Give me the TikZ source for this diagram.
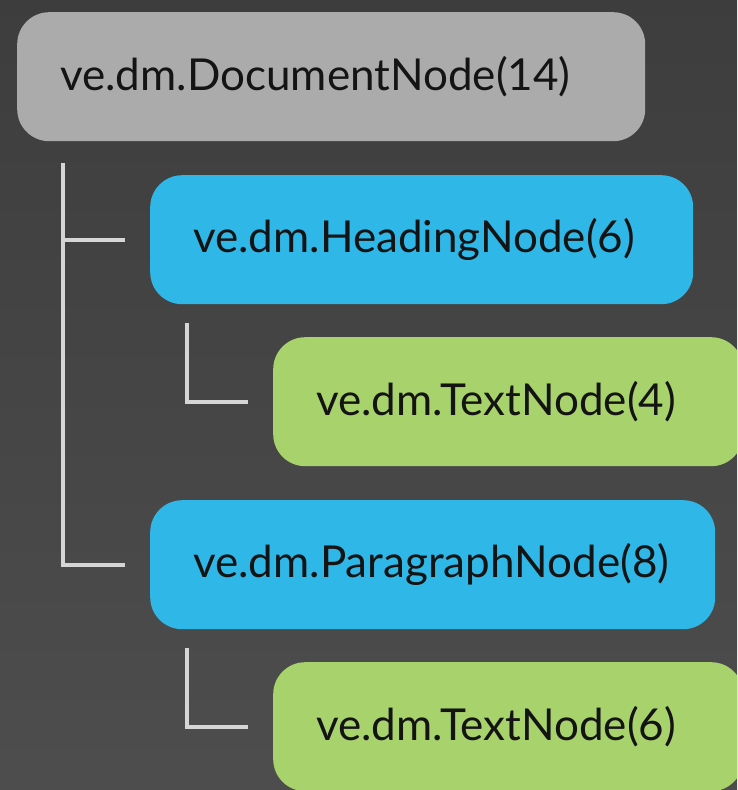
\documentclass[tikz,border=0pt]{standalone}
\usepackage{fontspec}
\setmainfont{Lato}
\usetikzlibrary{calc}
\definecolor{bggray}{HTML}{444444}
\definecolor{docgray}{HTML}{ABABAB}
\definecolor{blockblue}{HTML}{2FB8E7}
\definecolor{textgreen}{HTML}{A8D26B}
\definecolor{linegray}{HTML}{D6D6D6}
\begin{document}
\begin{tikzpicture}[x=1pt,y=-1pt]
		\tikzset{box/.style = {rounded corners=32pt,anchor=north west,minimum height=129pt,inner xsep=43pt,align=left,text=black!92,font=\fontsize{44}{50}\selectfont}}
		\tikzset{docnode/.style = {box,fill=docgray}}
		\tikzset{blocknode/.style = {box,fill=blockblue}}
		\tikzset{textnode/.style = {box,fill=textgreen}}
		\tikzset{tree/.style = {draw=linegray,line width=4pt}}
		\clip (0,0) rectangle (737,790);
		\shade[top color=bggray!90!black,bottom color=bggray!95!white] (0,0) rectangle (737,790);
		\node[docnode,text width=542pt] (doc) at (17,12) {ve.dm.DocumentNode(14)};
		\node[blocknode,text width=457pt] (head) at (150,175) {ve.dm.HeadingNode(6)};
		\node[textnode,text width=384pt] (text1) at (273,337) {ve.dm.TextNode(4)};
		\node[blocknode,text width=479pt] (para) at (150,500) {ve.dm.ParagraphNode(8)};
		\node[textnode,text width=384pt] (text2) at (273,662) {ve.dm.TextNode(6)};
		\coordinate (root) at ($(doc.south west)+(46,22)$);
		\coordinate (hend) at ($(head.west)+(-25,0)$);
		\coordinate (pend) at ($(para.west)+(-25,0)$);
		\coordinate (hsub) at ($(head.south west)+(37,19)$);
		\coordinate (t1end) at ($(text1.west)+(-25,0)$);
		\coordinate (psub) at ($(para.south west)+(37,19)$);
		\coordinate (t2end) at ($(text2.west)+(-25,0)$);
		\draw[tree] (root) |- (pend);
		\draw[tree] (root |- hend) -- (hend);
		\draw[tree] (hsub) |- (t1end);
		\draw[tree] (psub) |- (t2end);
	\end{tikzpicture}
\end{document}
